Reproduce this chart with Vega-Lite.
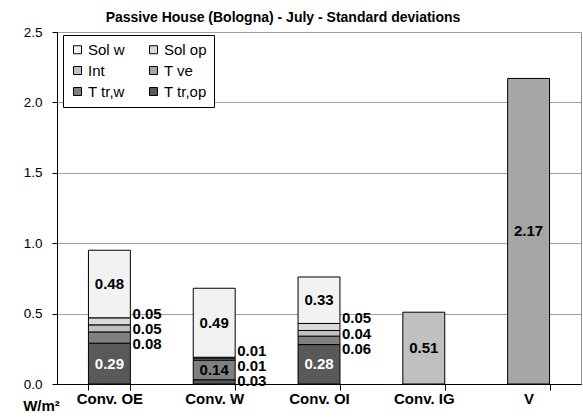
{
  "$schema": "https://vega.github.io/schema/vega-lite/v6.json",
  "width": 524,
  "height": 352,
  "autosize": {"type": "none"},
  "padding": {"left": 57, "top": 32, "right": 2, "bottom": 35},
  "background": "white",
  "title": {"text": "Passive House (Bologna) - July - Standard deviations", "fontSize": 14, "fontWeight": "bold", "font": "Liberation Sans", "color": "black", "offset": 0, "anchor": "middle", "dx": -36},
  "data": {"values": [
    {"cat": "Conv. OE", "comp": "T tr,op", "value": 0.29},
    {"cat": "Conv. OE", "comp": "T tr,w", "value": 0.08},
    {"cat": "Conv. OE", "comp": "Int", "value": 0.05},
    {"cat": "Conv. OE", "comp": "Sol op", "value": 0.05},
    {"cat": "Conv. OE", "comp": "Sol w", "value": 0.48},
    {"cat": "Conv. W", "comp": "T tr,op", "value": 0.03},
    {"cat": "Conv. W", "comp": "T tr,w", "value": 0.14},
    {"cat": "Conv. W", "comp": "Int", "value": 0.01},
    {"cat": "Conv. W", "comp": "Sol op", "value": 0.01},
    {"cat": "Conv. W", "comp": "Sol w", "value": 0.49},
    {"cat": "Conv. OI", "comp": "T tr,op", "value": 0.28},
    {"cat": "Conv. OI", "comp": "T tr,w", "value": 0.06},
    {"cat": "Conv. OI", "comp": "Int", "value": 0.04},
    {"cat": "Conv. OI", "comp": "Sol op", "value": 0.05},
    {"cat": "Conv. OI", "comp": "Sol w", "value": 0.33},
    {"cat": "Conv. IG", "comp": "Int", "value": 0.51},
    {"cat": "V", "comp": "T ve", "value": 2.17}
  ]},
  "transform": [
    {"calculate": "indexof(['T tr,op','T tr,w','T ve','Int','Sol op','Sol w'], datum.comp)", "as": "k"},
    {"stack": "value", "groupby": ["cat"], "sort": [{"field": "k", "order": "ascending"}], "as": ["y0", "y1"]},
    {"calculate": "(datum.y0 + datum.y1) / 2", "as": "mid"}
  ],
  "encoding": {
    "x": {
      "field": "cat", "type": "nominal",
      "sort": ["Conv. OE", "Conv. W", "Conv. OI", "Conv. IG", "V"],
      "scale": {"paddingInner": 0.6, "paddingOuter": 0.3},
      "axis": {"title": null, "labelAngle": 0, "labelFont": "Liberation Sans", "labelFontSize": 15, "labelFontWeight": "bold", "labelColor": "black", "labelPadding": 1, "tickBand": "extent", "tickSize": 6, "tickColor": "black", "domainColor": "black", "grid": false}
    }
  },
  "layer": [
    {
      "mark": {"type": "bar", "stroke": "black", "strokeWidth": 1},
      "encoding": {
        "y": {"field": "y0", "type": "quantitative",
          "scale": {"domain": [0, 2.5], "nice": false},
          "axis": {"title": "W/m²", "titleAngle": 0, "titleX": -16, "titleY": 373, "titleAlign": "center", "titleBaseline": "middle", "titleFont": "Liberation Sans", "titleFontSize": 15, "titleFontWeight": "bold", "titleColor": "black",
            "values": [0, 0.5, 1, 1.5, 2, 2.5], "format": ".1f", "labelFont": "Liberation Sans", "labelFontSize": 13.5, "labelColor": "black", "labelPadding": 10, "tickSize": 5, "tickColor": "black", "domainColor": "black", "gridColor": "#a0a0a0", "gridWidth": 1}},
        "y2": {"field": "y1"},
        "color": {"field": "comp", "type": "nominal",
          "scale": {"domain": ["Sol w", "Sol op", "Int", "T ve", "T tr,w", "T tr,op"], "range": ["#f2f2f2", "#dadada", "#c0c0c0", "#a6a6a6", "#808080", "#595959"]},
          "legend": {"title": null, "orient": "none", "legendX": 6, "legendY": 3, "columns": 2, "direction": "horizontal", "symbolType": "square", "symbolSize": 64, "symbolStrokeColor": "black", "symbolStrokeWidth": 1, "labelFont": "Liberation Sans", "labelFontSize": 15, "labelColor": "black", "labelOffset": 3, "columnPadding": 21, "rowPadding": 5, "padding": 7, "strokeColor": "black", "fillColor": "white", "symbolOpacity": 1}}
      }
    },
    {
      "transform": [{"filter": "datum.value >= 0.1"}],
      "mark": {"type": "text", "font": "Liberation Sans", "fontSize": 15, "fontWeight": "bold", "baseline": "middle", "align": "center"},
      "encoding": {
        "y": {"field": "mid", "type": "quantitative"},
        "text": {"field": "value", "type": "quantitative", "format": ".2f"},
        "color": {"condition": {"test": "datum.comp === 'T tr,op'", "value": "white"}, "value": "black"}
      }
    },
    {
      "transform": [
        {"filter": "datum.value < 0.1"},
        {"window": [{"op": "row_number", "as": "r"}], "groupby": ["cat"], "sort": [{"field": "k", "order": "descending"}]},
        {"joinaggregate": [{"op": "mean", "field": "mid", "as": "gmid"}, {"op": "count", "as": "n"}], "groupby": ["cat"]},
        {"calculate": "datum.gmid + ((datum.n + 1) / 2 - datum.r) * 0.107", "as": "ly"}
      ],
      "mark": {"type": "text", "font": "Liberation Sans", "fontSize": 15, "fontWeight": "bold", "baseline": "middle", "align": "left", "dx": 23, "color": "black"},
      "encoding": {
        "y": {"field": "ly", "type": "quantitative"},
        "text": {"field": "value", "type": "quantitative", "format": ".2f"}
      }
    }
  ],
  "config": {
    "view": {"stroke": "#909090", "strokeWidth": 1},
    "font": "Liberation Sans"
  }
}
